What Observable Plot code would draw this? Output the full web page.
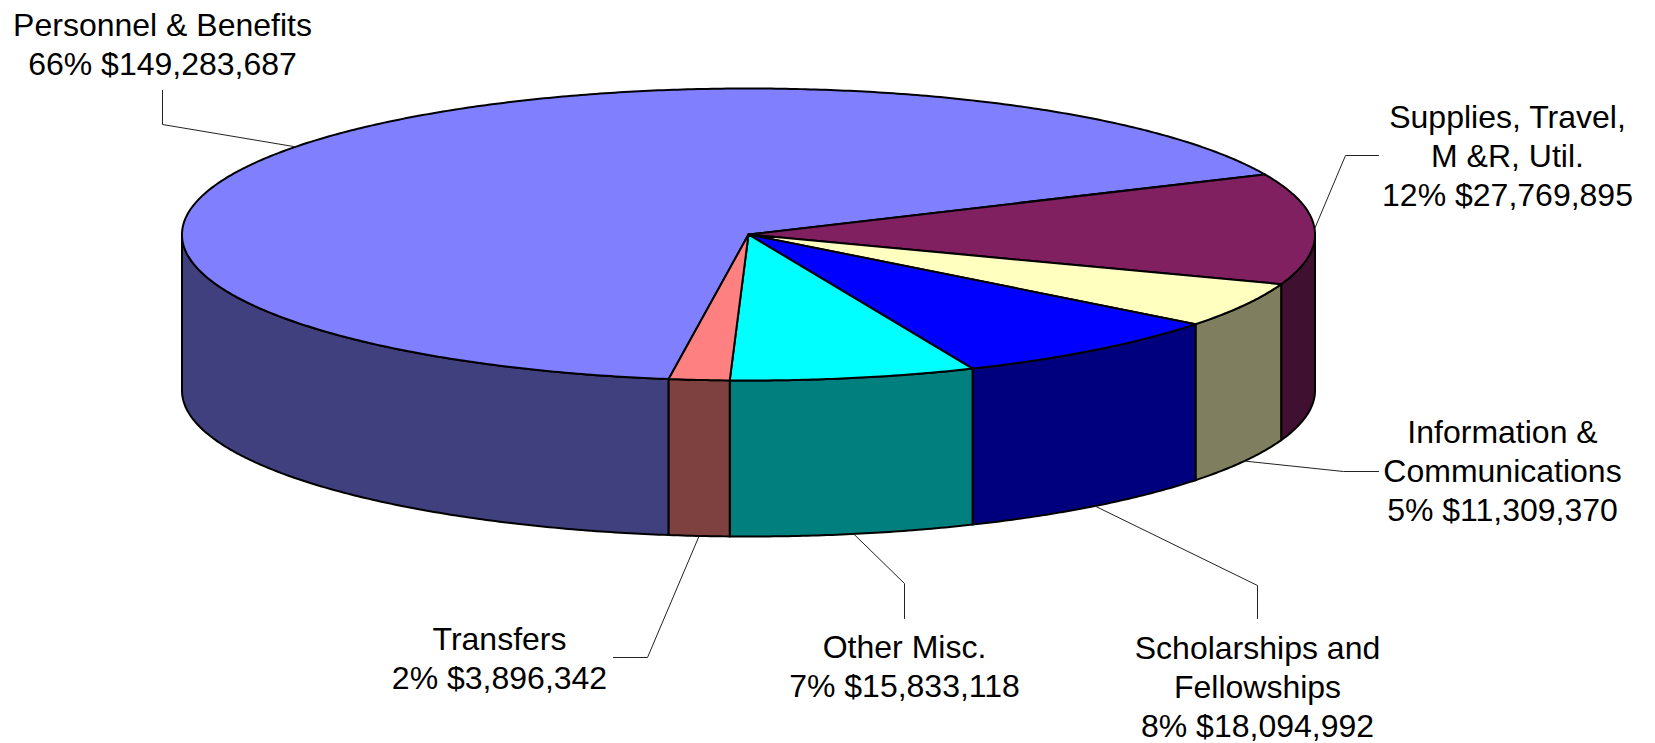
<!DOCTYPE html>
<html>
<head>
<meta charset="utf-8">
<script src="https://cdn.jsdelivr.net/npm/d3@7"></script>
<script src="https://cdn.jsdelivr.net/npm/@observablehq/plot@0.6"></script>
<style>
  html, body { margin: 0; padding: 0; background: #fff; }
  #chart { width: 1655px; height: 743px; }
</style>
</head>
<body>
<div id="chart"></div>
<script>
// ---- data ----
const categories = [
  "Personnel & Benefits",
  "Supplies, Travel,\nM &R, Util.",
  "Information &\nCommunications",
  "Scholarships and\nFellowships",
  "Other Misc.",
  "Transfers"
];
const values = [149283687, 27769895, 11309370, 18094992, 15833118, 3896342];

// ---- styles ----
const topColors  = ["#8080FF", "#802060", "#FFFFC0", "#0000FF", "#00FFFF", "#FF8080"];
const sideColors = ["#40407F", "#401030", "#7F7F60", "#00007F", "#007F7F", "#7F4040"];

// ---- layout (label boxes and leader elbows, pixel space) ----
const labelX = [162, 1507, 1502, 1257, 904, 499];
const labelTop = [8, 100, 415, 631, 630, 622];
const leaderBend = [[162, 124], [1345, 155], [1343, 471], [1257, 585], [904, 583], [647, 657]];
const leaderEnd  = [[162, 90],  [1378, 155], [1378, 471], [1257, 618], [904, 618], [613, 657]];

// pie geometry
const W = 1655, H = 743;
const cx = 748, cy = 234, rx = 566.5, ry = 146, depth = 156, startDeg = 98.1;

const total = d3.sum(values);
const fmt = d3.format(",");
const rad = d => d * Math.PI / 180;
const pt = (deg, dz = 0) => ({x: cx + rx * Math.cos(rad(deg)), y: cy + ry * Math.sin(rad(deg)) + dz});
function arc(a, b, dz = 0) {
  const n = Math.max(2, Math.ceil(Math.abs(b - a) / 0.5));
  return d3.range(n + 1).map(i => pt(a + (b - a) * i / n, dz));
}

// slices
let acc = startDeg;
const slices = values.map((v, i) => {
  const a = acc, b = acc + v / total * 360;
  acc = b;
  return {i, a, b, mid: (a + b) / 2};
});

const marks = [];
// side walls (front half only)
for (const s of slices) {
  for (const [lo, hi] of [[0, 180], [360, 540]]) {
    const a = Math.max(s.a, lo), b = Math.min(s.b, hi);
    if (b <= a) continue;
    const poly = [...arc(a, b, 0), ...arc(b, a, depth)];
    poly.push(poly[0]);
    marks.push(Plot.line(poly, {x: "x", y: "y", fill: sideColors[s.i], stroke: "black", strokeWidth: 2, strokeLinejoin: "round"}));
  }
}
// top faces
for (const s of slices) {
  const poly = [{x: cx, y: cy}, ...arc(s.a, s.b, 0), {x: cx, y: cy}];
  marks.push(Plot.line(poly, {x: "x", y: "y", fill: topColors[s.i], stroke: "black", strokeWidth: 2, strokeLinejoin: "round"}));
}
// leader lines
for (const s of slices) {
  const front = Math.sin(rad(s.mid)) > 0;
  const p0 = pt(s.mid, front ? depth : 0);
  const pts = [p0, {x: leaderBend[s.i][0], y: leaderBend[s.i][1]}, {x: leaderEnd[s.i][0], y: leaderEnd[s.i][1]}];
  marks.push(Plot.line(pts, {x: "x", y: "y", stroke: "#222", strokeWidth: 1}));
}
// labels
const labels = slices.map(s => ({
  x: labelX[s.i],
  y: labelTop[s.i],
  text: `${categories[s.i]}\n${Math.round(values[s.i] / total * 100)}% $${fmt(values[s.i])}`
}));
marks.push(Plot.text(labels, {
  x: "x", y: "y", text: "text", lineAnchor: "top", textAnchor: "middle",
  fontSize: 32, lineHeight: 1.22, fill: "black",
  fontFamily: "Liberation Sans, Arial, sans-serif"
}));

const chart = Plot.plot({
  width: W, height: H, margin: 0,
  x: {domain: [0, W], range: [0, W], axis: null},
  y: {domain: [0, H], range: [0, H], axis: null},
  style: {background: "white"},
  marks
});
document.getElementById("chart").appendChild(chart);
</script>
</body>
</html>
